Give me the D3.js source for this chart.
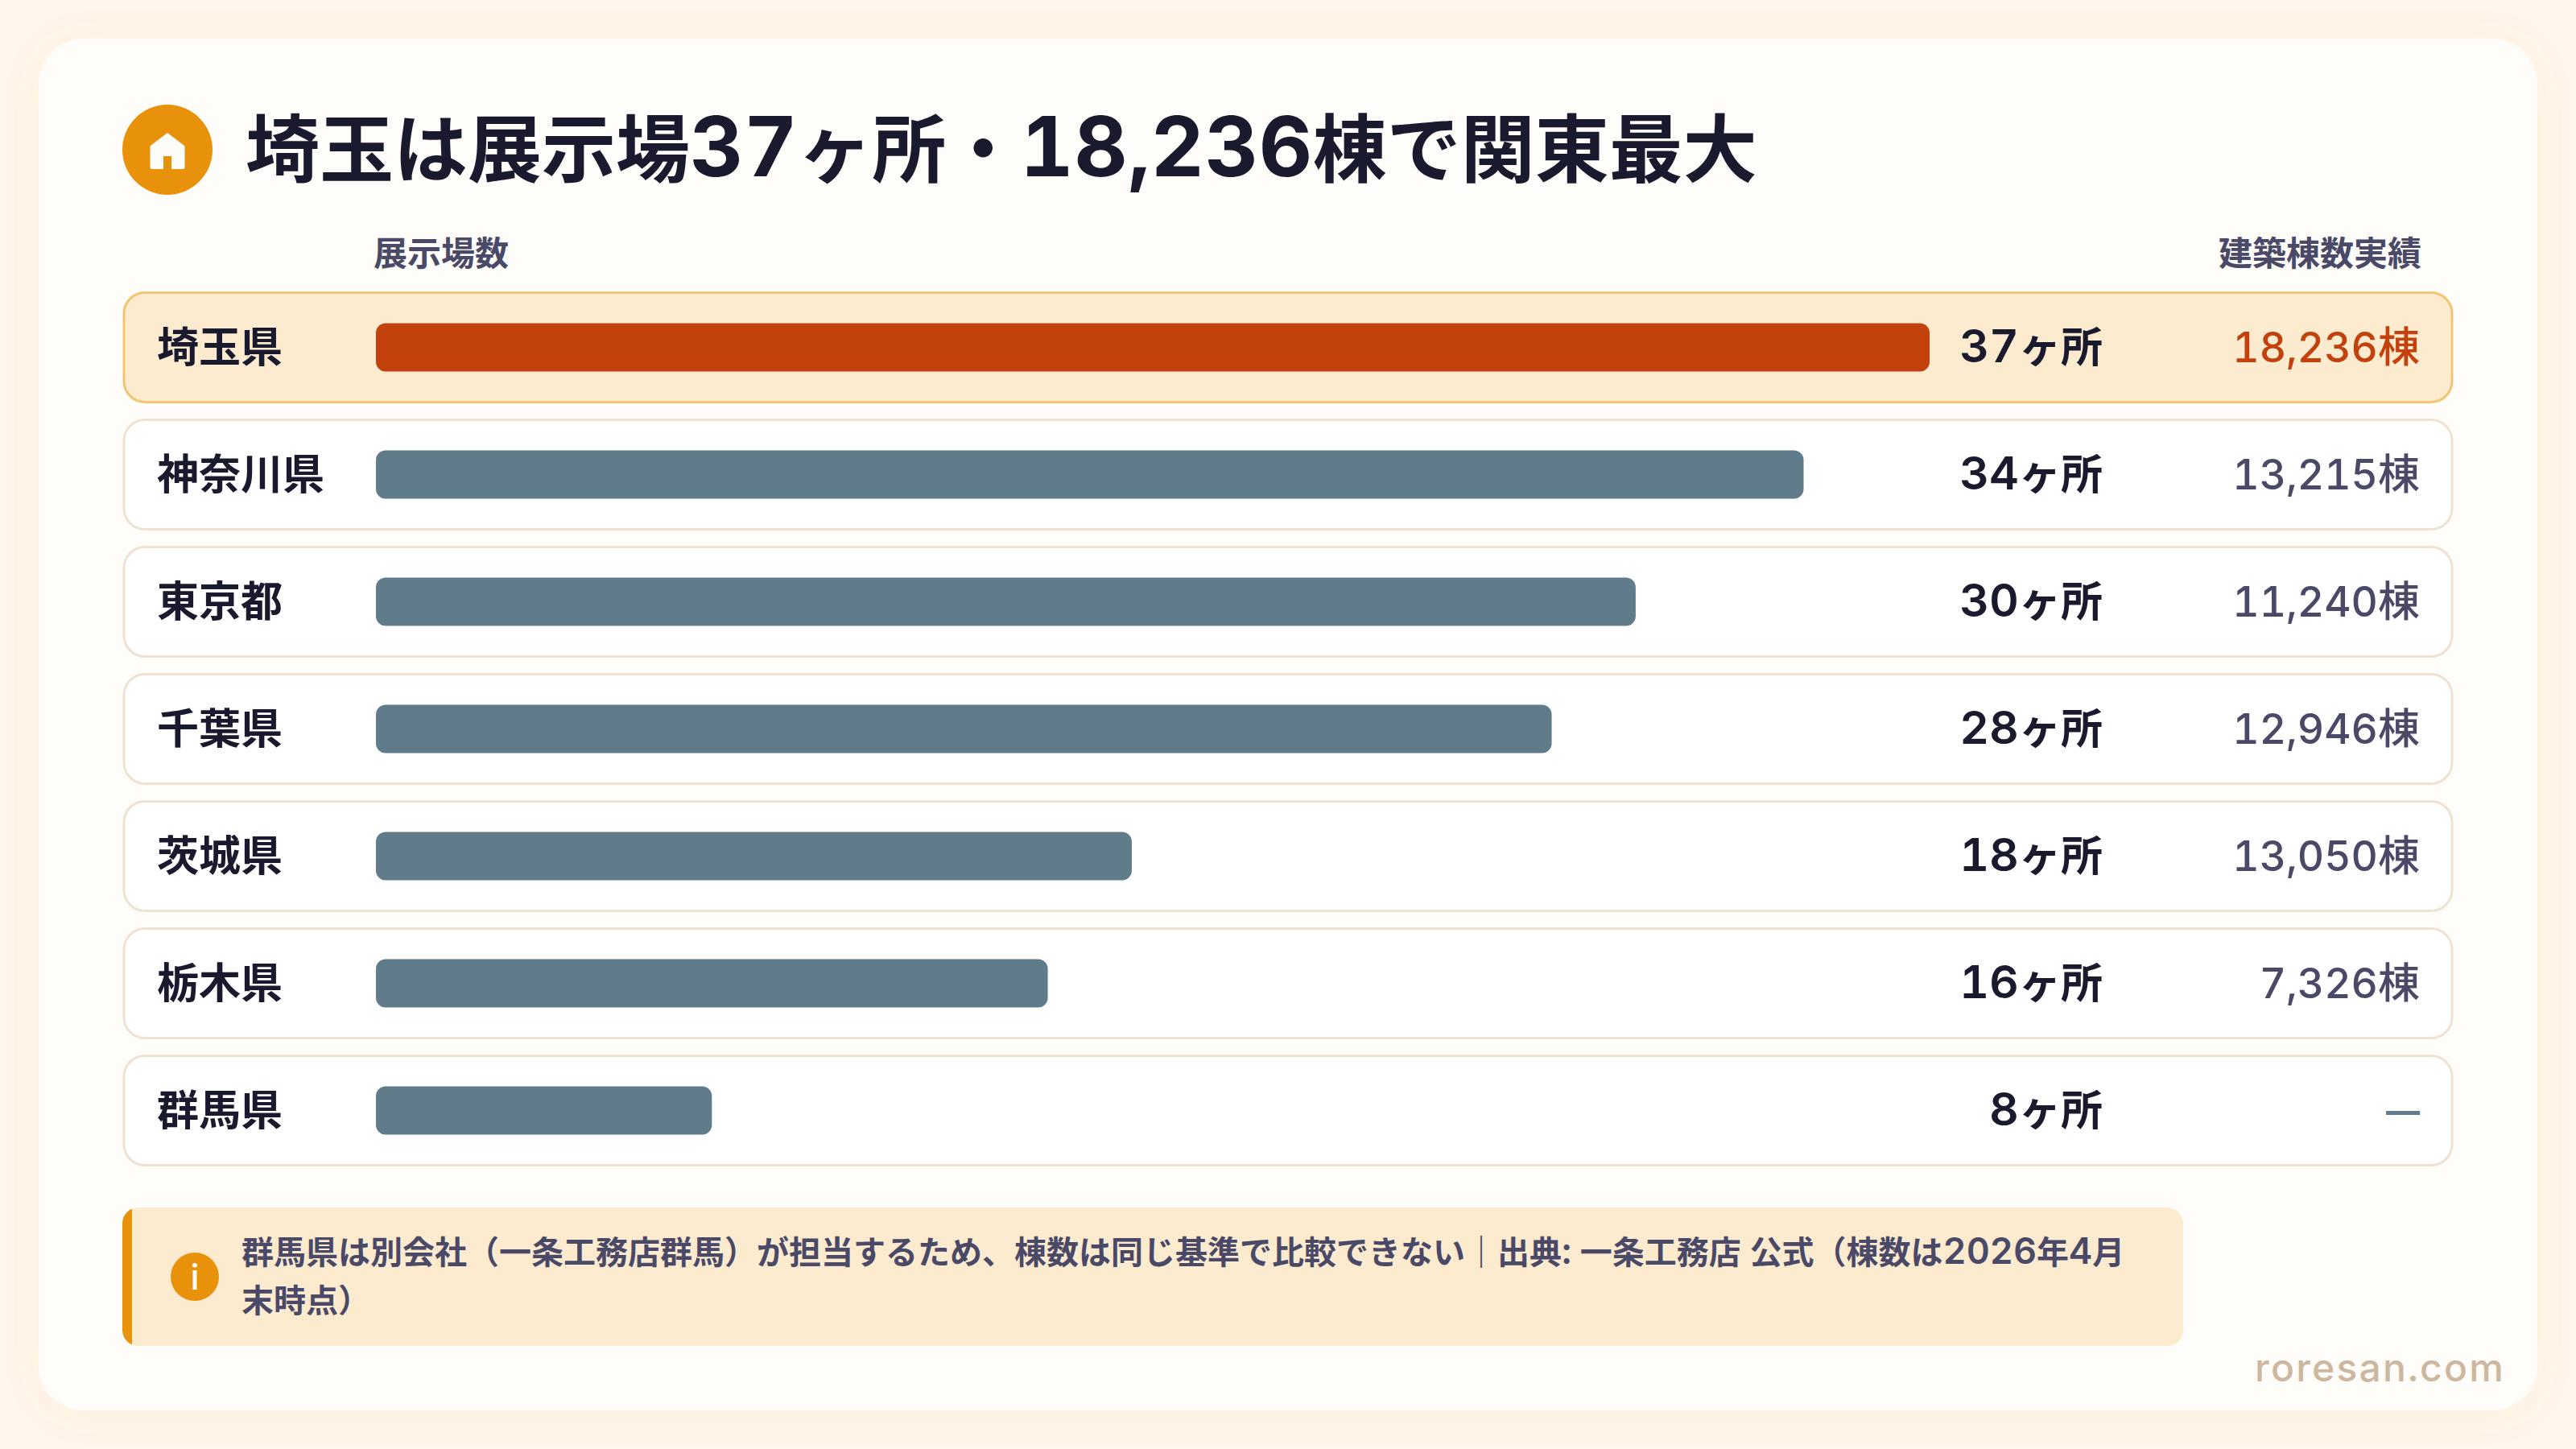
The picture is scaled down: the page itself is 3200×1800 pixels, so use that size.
<!DOCTYPE html>
<html lang="ja">
<head>
<meta charset="UTF-8">
<title>埼玉は展示場37ヶ所・18,236棟で関東最大</title>
<script src="https://d3js.org/d3.v7.min.js"></script>
<style>
  html, body { margin: 0; padding: 0; background: #fff5ea; }
  svg { display: block; }
  text { font-family: Inter, "Noto Sans CJK JP", sans-serif; font-variant-numeric: tabular-nums; }
</style>
</head>
<body>
<script>
// 都県ごとのデータ
var prefectures = ["埼玉県", "神奈川県", "東京都", "千葉県", "茨城県", "栃木県", "群馬県"];
var showrooms = [37, 34, 30, 28, 18, 16, 8];
var buildings = [18236, 13215, 11240, 12946, 13050, 7326, null];

var titleText = "埼玉は展示場37ヶ所・18,236棟で関東最大";
var headerLeft = "展示場数";
var headerRight = "建築棟数実績";
var noteLines = [
  "群馬県は別会社（一条工務店群馬）が担当するため、棟数は同じ基準で比較できない｜出典: 一条工務店 公式（棟数は2026年4月",
  "末時点）"
];
var siteName = "roresan.com";

var width = 3200, height = 1800;
var dark = "#1a1a2e", sub = "#4a4a68", orange = "#e8920c", red = "#c2410c", slate = "#607b8a";

var svg = d3.select("body").append("svg").attr("width", width).attr("height", height);

// 英数字だけ少し大きく（和文と英字でサイズを変える）
function mixedText(sel, str, latinSize, latinWeight, spacing) {
  var parts = str.match(/[0-9A-Za-z,.:]+|[^0-9A-Za-z,.:]+/g);
  parts.forEach(function(p) {
    var t = sel.append("tspan").text(p);
    if (/^[0-9A-Za-z,.:]/.test(p)) {
      t.attr("font-size", latinSize);
      if (latinWeight) t.attr("font-weight", latinWeight);
      if (spacing) t.attr("letter-spacing", spacing);
    }
  });
}

var defs = svg.append("defs");
defs.append("filter").attr("id", "cardShadow")
    .attr("x", "-5%").attr("y", "-5%").attr("width", "110%").attr("height", "110%")
  .append("feDropShadow")
    .attr("dx", 0).attr("dy", 4).attr("stdDeviation", 24)
    .attr("flood-color", "#e8920c").attr("flood-opacity", 0.05);

// カード
svg.append("rect").attr("x", 48).attr("y", 48).attr("width", 3104).attr("height", 1704)
  .attr("rx", 56).attr("fill", "#fffdf9").attr("filter", "url(#cardShadow)");

// タイトル
svg.append("circle").attr("cx", 208).attr("cy", 186).attr("r", 56).attr("fill", orange);
svg.append("path")
  .attr("d", "M208 165 L229 181 Q229.500 181.500 229.500 183 L229.500 208 Q229.500 210 227.500 210 L213 210 L213 194 L203 194 L203 210 L188.500 210 Q186.500 210 186.500 208 L186.500 183 Q186.500 181.500 187 181 Z")
  .attr("fill", "#fffdf9");
svg.append("text").attr("x", 305).attr("y", 219)
  .attr("font-size", 92).attr("font-weight", 700).attr("fill", dark)
  .call(mixedText, titleText, 103, 650, 0.5);

// 列見出し
svg.append("text").attr("x", 464).attr("y", 330)
  .attr("font-size", 42).attr("font-weight", 600).attr("fill", sub).text(headerLeft);
svg.append("text").attr("x", 3008).attr("y", 330).attr("text-anchor", "end")
  .attr("font-size", 42).attr("font-weight", 600).attr("fill", sub).text(headerRight);

// スケール
var y = d3.scaleBand().domain(prefectures).range([363.5, 1447.5]).paddingInner(22 / 158).paddingOuter(0);
var x = d3.scaleLinear().domain([0, 37]).range([467, 2397]);

var rows = svg.selectAll(".row")
  .data(prefectures)
  .enter().append("g")
  .attr("class", "row")
  .attr("transform", function(d) { return "translate(0," + y(d) + ")"; });

rows.append("rect")
  .attr("x", 154).attr("width", 2892).attr("height", y.bandwidth()).attr("rx", 26)
  .attr("fill", function(d, i) { return i === 0 ? "#fdebd0" : "#ffffff"; })
  .attr("stroke", function(d, i) { return i === 0 ? "#f2c572" : "#f0e2d0"; })
  .attr("stroke-width", 3);

rows.append("text")
  .attr("x", 195).attr("y", y.bandwidth() / 2).attr("dy", "0.36em")
  .attr("font-size", 52).attr("font-weight", 600).attr("fill", dark)
  .text(function(d) { return d; });

rows.append("rect")
  .attr("x", x(0)).attr("y", y.bandwidth() / 2 - 30).attr("height", 60).attr("rx", 12)
  .attr("width", function(d, i) { return x(showrooms[i]) - x(0); })
  .attr("fill", function(d, i) { return i === 0 ? red : slate; });

rows.append("text")
  .attr("x", 2612).attr("y", y.bandwidth() / 2).attr("dy", "0.36em").attr("text-anchor", "end")
  .attr("font-size", 52).attr("font-weight", 600).attr("fill", dark)
  .each(function(d, i) { mixedText(d3.select(this), showrooms[i] + "ヶ所", 57, 600); });

rows.append("text")
  .attr("x", 3006).attr("y", y.bandwidth() / 2).attr("dy", "0.36em").attr("text-anchor", "end")
  .attr("font-size", function(d, i) { return buildings[i] === null ? 42 : 52; })
  .attr("font-weight", function(d, i) { return buildings[i] === null ? 700 : 500; })
  .attr("fill", function(d, i) { return i === 0 ? red : buildings[i] === null ? slate : sub; })
  .each(function(d, i) {
    if (buildings[i] === null) d3.select(this).text("—");
    else mixedText(d3.select(this), d3.format(",")(buildings[i]) + "棟", 51.5);
  });

// 注記
svg.append("clipPath").attr("id", "noteClip").append("rect")
  .attr("x", 152).attr("y", 1500).attr("width", 2560).attr("height", 172).attr("rx", 20);
var note = svg.append("g").attr("clip-path", "url(#noteClip)");
note.append("rect").attr("x", 152).attr("y", 1500).attr("width", 2560).attr("height", 172).attr("fill", "#fdebd0");
note.append("rect").attr("x", 152).attr("y", 1500).attr("width", 12).attr("height", 172).attr("fill", orange);

svg.append("circle").attr("cx", 242).attr("cy", 1586).attr("r", 30).attr("fill", orange);
svg.append("text").attr("x", 242).attr("y", 1602).attr("text-anchor", "middle")
  .attr("font-size", 44).attr("font-weight", 500).attr("fill", "#fffdf9").text("i");

svg.selectAll(".note-line")
  .data(noteLines)
  .enter().append("text")
  .attr("class", "note-line")
  .attr("x", 300)
  .attr("y", function(d, i) { return 1570 + i * 60; })
  .attr("font-size", 40).attr("font-weight", 600).attr("fill", sub)
  .each(function(d) { mixedText(d3.select(this), d, 45); });

// サイト名
svg.append("text").attr("x", 3112).attr("y", 1716).attr("text-anchor", "end")
  .attr("font-size", 48).attr("font-weight", 500).attr("letter-spacing", 2.2).attr("fill", "#cdb89f")
  .text(siteName);
</script>
</body>
</html>
